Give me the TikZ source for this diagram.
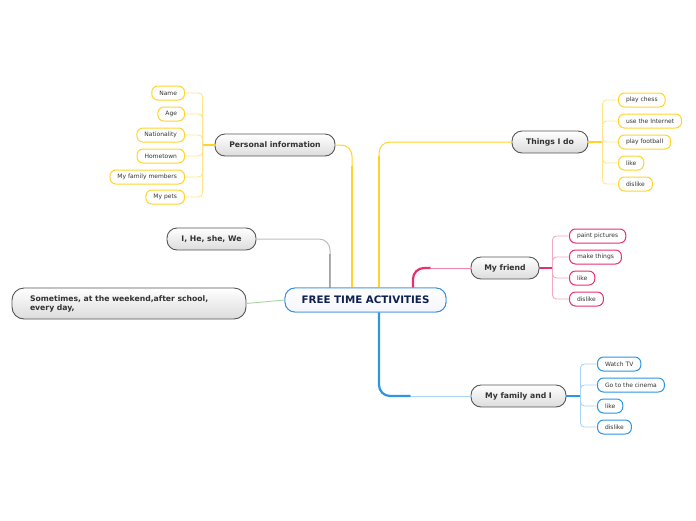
\documentclass[tikz,border=0pt]{standalone}
\usepackage{fontspec}
\setmainfont{DejaVu Sans}
\definecolor{txt}{HTML}{333333}
\definecolor{navy}{HTML}{0D2150}
\definecolor{mainborder}{HTML}{555555}
\definecolor{shadegrey}{HTML}{DCDCDC}
\definecolor{yel}{HTML}{FFD42A}
\definecolor{yellight}{HTML}{FFE58A}
\definecolor{pnk}{HTML}{E8306A}
\definecolor{pnklight}{HTML}{F6A8C2}
\definecolor{blu}{HTML}{2D95E3}
\definecolor{blulight}{HTML}{A8D4F5}
\definecolor{gry}{HTML}{999999}
\definecolor{grylight}{HTML}{BBBBBB}
\definecolor{grn}{HTML}{A9D5A0}
\definecolor{centralborder}{HTML}{3A8EDB}
\tikzset{
  mainbox/.style={draw=mainborder, line width=0.9pt, rounded corners=10pt,
    top color=white, bottom color=shadegrey, minimum height=22pt,
    font=\fontsize{7.7}{9}\selectfont\bfseries, text=txt, inner xsep=0pt, inner ysep=0pt},
  centralbox/.style={draw=centralborder, line width=0.9pt, rounded corners=10pt,
    top color=white, bottom color=blue!4, minimum height=24pt, minimum width=161pt,
    font=\fontsize{10.3}{12}\selectfont\bfseries, text=navy, inner xsep=0pt, inner ysep=0pt},
  leaf/.style={fill=white, line width=1pt, rounded corners=6pt, minimum height=14pt,
    font=\fontsize{6}{7}\selectfont, text=txt, inner xsep=7.5pt, inner ysep=0pt},
  yleaf/.style={leaf, draw=yel},
  pleaf/.style={leaf, draw=pnk},
  bleaf/.style={leaf, draw=blu},
  branch/.style={line width=2.2pt, rounded corners=11pt},
  thinbranch/.style={line width=1pt, rounded corners=11pt},
  fork/.style={line width=0.9pt, rounded corners=4pt},
  stub/.style={line width=1.6pt},
}
\begin{document}
\begin{tikzpicture}[x=1pt,y=-1pt]
\useasboundingbox (0,0) rectangle (696,520);

% main nodes
\node[centralbox] (c) at (365.5,300) {FREE TIME ACTIVITIES};
\node[mainbox, minimum width=120pt] (pi) at (275,145) {Personal information};
\node[mainbox, minimum width=76pt] (tid) at (550,142) {Things I do};
\node[mainbox, minimum width=68pt] (mf) at (505,268) {My friend};
\node[mainbox, minimum width=95pt] (fam) at (518.5,396) {My family and I};
\node[mainbox, minimum width=89pt] (ihs) at (211.5,239) {I, He, she, We};
\node[mainbox, minimum width=234pt, minimum height=31pt, align=left, text width=198pt, rounded corners=12pt]
  (st) at (129,303.5) {Sometimes, at the weekend,after school,\\every day,};

% connectors from central
\draw[yel, thinbranch] (pi.east) -| ([xshift=-13.5pt]c.north);
\draw[yel, line width=2.4pt] ([xshift=-13.5pt]c.north) -- ++(0,-122);
\draw[yel, thinbranch] ([xshift=13.5pt]c.north) |- (tid.west);
\draw[yel, line width=2.4pt] ([xshift=13.5pt]c.north) -- ++(0,-132);
\draw[pnk, branch] ([xshift=47.5pt]c.north) |- ([xshift=-40pt]mf.west);
\draw[pnk!60, thinbranch] ([xshift=-40pt]mf.west) -- (mf.west);
\draw[blu, branch] ([xshift=13.5pt]c.south) |- ([xshift=-60pt]fam.west);
\draw[blulight, thinbranch] ([xshift=-60pt]fam.west) -- (fam.west);
\draw[gry, line width=2pt] ([xshift=-35.5pt]c.north) -- ++(0,-34);
\draw[grylight, thinbranch] (ihs.east) -| ([xshift=-35.5pt]c.north);
\draw[grn, line width=0.9pt] (st.east) -- (c.west);

% Personal information leaves
\node[yleaf, anchor=east] (n1) at (185,93) {Name};
\node[yleaf, anchor=east] (n2) at (185,114) {Age};
\node[yleaf, anchor=east] (n3) at (185,135) {Nationality};
\node[yleaf, anchor=east] (n4) at (185,156) {Hometown};
\node[yleaf, anchor=east] (n5) at (185,177) {My family members};
\node[yleaf, anchor=east] (n6) at (185,197) {My pets};
\coordinate (pif) at ([xshift=-12pt]pi.west);
\draw[yel, stub] (pi.west) -- (pif);
\foreach \n in {n1,n2,n3,n4,n5,n6} \draw[yellight, fork] (pif) |- (\n.east);

% Things I do leaves
\node[yleaf, anchor=west] (t1) at (618,100) {play chess};
\node[yleaf, anchor=west] (t2) at (618,121) {use the Internet};
\node[yleaf, anchor=west] (t3) at (618,142) {play football};
\node[yleaf, anchor=west] (t4) at (618,163) {like};
\node[yleaf, anchor=west] (t5) at (618,184) {dislike};
\coordinate (tif) at ([xshift=14pt]tid.east);
\draw[yel, stub] (tid.east) -- (tif);
\foreach \n in {t1,t2,t3,t4,t5} \draw[yellight, fork] (tif) |- (\n.west);

% My friend leaves
\node[pleaf, anchor=west] (f1) at (569,236) {paint pictures};
\node[pleaf, anchor=west] (f2) at (569,257) {make things};
\node[pleaf, anchor=west] (f3) at (569,278) {like};
\node[pleaf, anchor=west] (f4) at (569,299) {dislike};
\coordinate (mff) at ([xshift=13pt]mf.east);
\draw[pnk, stub] (mf.east) -- (mff);
\foreach \n in {f1,f2,f3,f4} \draw[pnklight, fork] (mff) |- (\n.west);

% My family leaves
\node[bleaf, anchor=west] (b1) at (597,364) {Watch TV};
\node[bleaf, anchor=west] (b2) at (597,385) {Go to the cinema};
\node[bleaf, anchor=west] (b3) at (597,406) {like};
\node[bleaf, anchor=west] (b4) at (597,427) {dislike};
\coordinate (faf) at ([xshift=14pt]fam.east);
\draw[blu, stub] (fam.east) -- (faf);
\foreach \n in {b1,b2,b3,b4} \draw[blulight, fork] (faf) |- (\n.west);

% redraw central node on top
\node[centralbox] at (c) {FREE TIME ACTIVITIES};
\end{tikzpicture}
\end{document}
